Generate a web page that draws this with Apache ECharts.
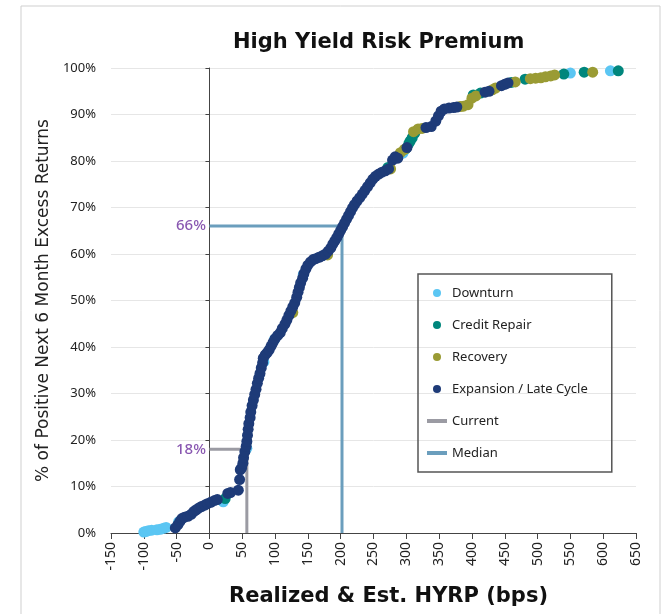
<!DOCTYPE html>
<html>
<head>
<meta charset="utf-8">
<script src="https://cdn.jsdelivr.net/npm/echarts@6/dist/echarts.min.js"></script>
<style>
  html, body { margin: 0; padding: 0; background: #fff; }
  #chart { width: 671px; height: 614px; }
</style>
</head>
<body>
<div id="chart"></div>
<script>
// values: [HYRP bps, % positive]
var downturnPts = [[-100,0.2],[-97,0.3],[-93,0.5],[-88,0.6],[-80,0.7],[-75,0.8],[-70,1.0],[-66,1.2],
  [-47,2.4],[21,6.7],[57,18.2],[83,36.8],[99,41.6],[143,55.6],[295,81.7],[550,98.9],[611,99.4]];
var creditRepairPts = [[24,7.4],[272,78.6],[299,82.6],[304,83.8],[306,84.3],[309,85.0],[313,86.0],
  [402,94.2],[413,94.6],[460,96.9],[481,97.6],[540,98.7],[571,99.1],[623,99.4]];
var recoveryPts = [[127,47.4],[180,59.8],[276,78.3],[291,81.8],[297,82.5],[311,86.3],[318,86.9],
  [324,87.0],[382,91.7],[387,91.8],[394,92.1],[400,93.5],[406,94.0],[431,95.3],[436,95.7],
  [466,97.0],[489,97.7],[497,97.8],[505,97.9],[512,98.1],[520,98.3],[526,98.5],[584,99.1]];
var expansionPts = [[-52,1.1],[-48,1.8],[-45,2.5],[-42,3.1],[-38,3.4],[-33,3.6],[-28,4.0],[-24,4.6],
  [-20,5.0],[-16,5.4],[-12,5.7],[-7,6.0],[-3,6.3],[2,6.6],[8,7.0],[12,7.2],[28,8.5],[32,8.7],
  [44,9.2],[46,11.5],[47,13.6],[49,14.0],[51,15.0],[52,16.2],[54,17.5],[56,18.6],[57,19.7],
  [58,21.0],[59,22.3],[60,23.5],[62,24.8],[63,26.0],[65,27.4],[67,28.6],[69,29.8],[71,30.9],
  [73,32.2],[75,33.3],[77,34.3],[79,35.5],[81,36.6],[82,37.6],[85,38.3],[88,38.8],[91,39.4],
  [94,40.2],[97,41.0],[100,41.8],[104,42.5],[108,43.1],[111,44.0],[115,44.9],[118,45.8],
  [121,46.8],[124,47.7],[127,48.6],[130,49.5],[133,50.7],[135,51.8],[137,52.8],[139,53.8],
  [142,54.8],[144,55.8],[147,56.8],[150,57.6],[154,58.3],[158,58.8],[162,59.0],[167,59.3],
  [172,59.6],[177,60.0],[181,60.6],[185,61.3],[188,62.1],[191,62.8],[194,63.5],[197,64.3],
  [200,65.1],[203,65.9],[206,66.7],[209,67.5],[212,68.3],[215,69.1],[218,69.9],[221,70.6],
  [225,71.4],[229,72.1],[233,72.9],[237,73.7],[241,74.5],[245,75.3],[249,76.1],[253,76.7],
  [258,77.2],[263,77.6],[268,77.9],[273,78.3],[279,80.2],[283,80.9],[287,80.6],[301,82.9],
  [330,87.2],[338,87.4],[345,88.6],[349,89.7],[353,90.7],[358,91.2],[365,91.4],[372,91.5],
  [377,91.6],[420,94.8],[426,95.0],[445,96.2],[450,96.5],[455,96.8]];
var currentLine = [[0,18],[57,18],[57,0]];
var medianLine = [[0,66],[202,66],[202,0]];
var markerLabels = [[0,66,'66%'],[0,18,'18%']];
var xTicks = { min: -150, max: 650, step: 50 };
var yTicks = { min: 0, max: 100, step: 10 };

var FONT = 'Noto Sans';
var LINE_ICON = 'path://M0,0L20,0L20,4L0,4Z';
var chart = echarts.init(document.getElementById('chart'));

function dots(name, color, pts) {
  return {
    name: name, type: 'scatter', data: pts, symbolSize: 11,
    itemStyle: { color: color, opacity: 1 }, z: 3
  };
}
function guide(name, color, pts) {
  return {
    name: name, type: 'line', data: pts, symbol: 'none',
    lineStyle: { color: color, width: 3 }, itemStyle: { color: color }, z: 2
  };
}

var option = {
  animation: false,
  title: {
    text: 'High Yield Risk Premium', left: 228, top: 27,
    textStyle: { fontFamily: 'DejaVu Sans', fontWeight: 'bold', fontSize: 21, color: '#111' }
  },
  grid: { left: 111, right: 35, top: 68, bottom: 81 },
  legend: {
    orient: 'vertical', left: 418, top: 274,
    padding: [10, 24, 10, 9], itemGap: 14, itemWidth: 20, itemHeight: 8,
    borderColor: '#555', borderWidth: 1.5,
    textStyle: { fontFamily: FONT, fontSize: 13, color: '#222', lineHeight: 18 },
    data: [
      { name: 'Downturn', icon: 'circle' },
      { name: 'Credit Repair', icon: 'circle' },
      { name: 'Recovery', icon: 'circle' },
      { name: 'Expansion / Late Cycle', icon: 'circle' },
      { name: 'Current', icon: LINE_ICON },
      { name: 'Median', icon: LINE_ICON }
    ]
  },
  xAxis: {
    type: 'value', min: xTicks.min, max: xTicks.max, interval: xTicks.step,
    name: 'Realized & Est. HYRP (bps)', nameLocation: 'middle', nameGap: 53,
    nameTextStyle: {
      fontFamily: 'DejaVu Sans', fontWeight: 'bold', fontSize: 21, color: '#111',
      padding: [0, 0, 0, 30]
    },
    axisLine: { onZero: false, lineStyle: { color: '#444', width: 1 } },
    axisTick: { show: true, length: 6, lineStyle: { color: '#444' } },
    axisLabel: { rotate: 90, margin: 9, fontFamily: FONT, fontSize: 14, color: '#222' },
    splitLine: { show: false }
  },
  yAxis: [
    {
      type: 'value', min: yTicks.min, max: yTicks.max, interval: yTicks.step,
      axisLine: { show: true, onZero: true, lineStyle: { color: '#444', width: 1 } },
      axisTick: { show: true, length: 4, lineStyle: { color: '#444' } },
      axisLabel: { show: false },
      splitLine: { show: false }
    },
    {
      type: 'value', position: 'left', min: yTicks.min, max: yTicks.max, interval: yTicks.step,
      name: '% of Positive Next 6 Month Excess Returns', nameLocation: 'middle', nameGap: 57,
      nameTextStyle: { fontFamily: 'DejaVu Sans', fontSize: 17, color: '#222' },
      axisLine: { show: false, onZero: false }, axisTick: { show: false },
      axisLabel: { formatter: '{value}%', margin: 15, fontFamily: FONT, fontSize: 13, color: '#222' },
      splitLine: { show: true, lineStyle: { color: '#e6e6e6', width: 1 } }
    }
  ],
  series: [
    guide('Current', '#9b9ba3', currentLine),
    guide('Median', '#6b9ebd', medianLine),
    dots('Downturn', '#5bc6f3', downturnPts),
    dots('Credit Repair', '#00867c', creditRepairPts),
    dots('Recovery', '#9a9b34', recoveryPts),
    dots('Expansion / Late Cycle', '#1e3b78', expansionPts),
    {
      name: 'marks', type: 'scatter', symbolSize: 1, z: 4,
      itemStyle: { color: 'rgba(0,0,0,0)' },
      data: markerLabels.map(function (m) { return [m[0], m[1], m[2]]; }),
      label: {
        show: true, position: 'left', distance: 3,
        formatter: function (p) { return p.value[2]; },
        fontFamily: FONT, fontSize: 15, fontWeight: 500, color: '#6a2c9c'
      }
    }
  ],
  graphic: [{
    type: 'rect', shape: { x: 21, y: 6, width: 639, height: 620 }, silent: true,
    style: { fill: null, stroke: '#cfcfcf', lineWidth: 1 }, z: -1
  }]
};
chart.setOption(option);
</script>
</body>
</html>
